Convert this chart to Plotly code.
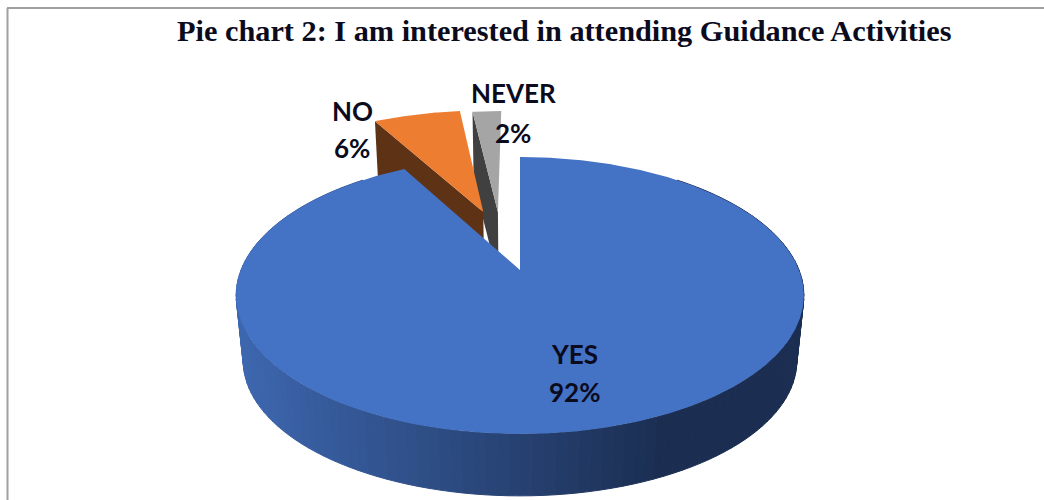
import numpy as np
import plotly.graph_objects as go

# chart values
categories = ["YES", "NO", "NEVER"]
shares = [92, 6, 2]
chart_title = "Pie chart 2: I am interested in attending Guidance Activities"

top_colors = ["#4472c4", "#ed7d31", "#a5a5a5"]
wall_colors = [None, "#5e3214", "#404040"]

# perspective of the pie: screen position of the centre and the radii
cx, cy = 520, 270
rad_x, rad_y, persp = 279, 133.8, 0.184
drop, bottom_scale = 66, 0.975

# how far each slice is pulled out, in units of pie radius, and its size
explode = [(0, 0), (-0.143, 0.47), (-0.086, 0.47)]
slice_size = [1, 1.06, 1.05]

label_pos = [((574, 354), (574, 392)), ((352, 111), (352, 148)), ((513, 93), (513, 133))]


def project(u, v, bottom=False):
    w = 1 + persp * v
    scale = bottom_scale if bottom else 1
    y0 = cy + drop if bottom else cy
    return cx + rad_x * scale * u / w, y0 - rad_y * scale * v / w


def slice_xy(a0, a1, off, size=1):
    t = np.radians(np.linspace(a0, a1, int(a1 - a0) * 2 + 2))
    u = np.concatenate([[off[0]], off[0] + size * np.sin(t), [off[0]]])
    v = np.concatenate([[off[1]], off[1] + size * np.cos(t), [off[1]]])
    return project(u, v)


def polygon(fig, x, y, color, width=0):
    fig.add_trace(go.Scatter(
        x=x, y=y, mode="lines", fill="toself", fillcolor=color,
        line=dict(color=color, width=width), hoverinfo="skip", showlegend=False,
    ))


def side_color(x):
    # wall shading runs from mid blue on the left to navy on the right
    f = np.clip((x - 240) / 420, 0, 1)
    a, b = np.array([62, 104, 176]), np.array([27, 46, 82])
    r, g, bl = (a + (b - a) * f).astype(int)
    return f"rgb({r},{g},{bl})"


edges = np.cumsum([0] + shares) / sum(shares) * 360

fig = go.Figure()

# small slices sit behind the big one
for i in [2, 1]:
    off, size = explode[i], slice_size[i]
    t = np.radians(edges[i])
    u = np.array([off[0], off[0] + size * np.sin(t)])
    v = np.array([off[1], off[1] + size * np.cos(t)])
    xt, yt = project(u, v)
    xb, yb = project(u, v, True)
    polygon(fig, [xt[0], xt[1], xb[1], xb[0], xt[0]], [yt[0], yt[1], yb[1], yb[0], yt[0]], wall_colors[i])
    x, y = slice_xy(edges[i], edges[i + 1], off, size)
    polygon(fig, x, y, top_colors[i])

# big slice: wall in thin strips for the shading, then the top face
steps = np.arange(40, 320, 2.0)
for a in steps:
    t = np.radians([a, a + 2])
    u, v = np.sin(t), np.cos(t)
    xt, yt = project(u, v)
    xb, yb = project(u, v, True)
    polygon(fig, [xt[0], xt[1], xb[1], xb[0], xt[0]], [yt[0], yt[1], yb[1], yb[0], yt[0]],
            side_color(xb.mean()), 1)

x, y = slice_xy(edges[0], edges[1], explode[0])
polygon(fig, x, y, top_colors[0])

annotations = [dict(
    x=564.5, y=31, xref="x", yref="y", text=f"<b>{chart_title}</b>", showarrow=False,
    font=dict(family="Liberation Serif", size=30.3, color="#0b0b1e"),
)]
for name, share, (p1, p2) in zip(categories, shares, label_pos):
    for txt, p in ((name, p1), (f"{share}%", p2)):
        annotations.append(dict(
            x=p[0], y=p[1], xref="x", yref="y", text=f"<b>{txt}</b>", showarrow=False,
            font=dict(family="Lato", size=26, color="#0b0b1e"),
        ))

fig.update_layout(
    width=1044,
    height=500,
    margin=dict(l=0, r=0, t=0, b=0),
    paper_bgcolor="white",
    plot_bgcolor="white",
    xaxis=dict(range=[0, 1044], visible=False, fixedrange=True),
    yaxis=dict(range=[500, 0], visible=False, fixedrange=True),
    annotations=annotations,
    shapes=[
        dict(type="line", x0=7.5, x1=7.5, y0=8, y1=500, line=dict(color="#a0a0a0", width=2)),
        dict(type="line", x0=7, x1=1044, y0=8, y1=8, line=dict(color="#a0a0a0", width=2)),
    ],
)

# the page's default body margin would push the chart 8px in
fig.write_html(
    "out.html",
    config=dict(displayModeBar=False),
    post_script="document.body.style.margin='0';document.body.style.overflow='hidden';",
)
